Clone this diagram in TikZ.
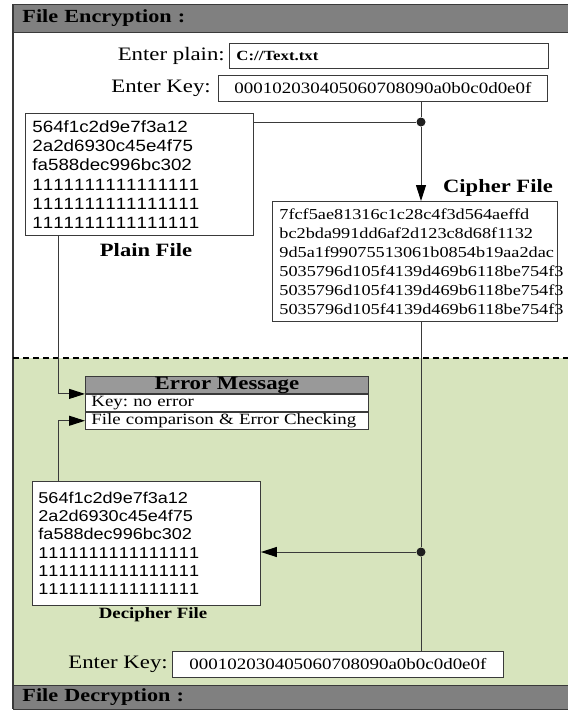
\documentclass[tikz,border=0pt]{standalone}
\usepackage{fontspec}
\setmainfont{Liberation Serif}[FakeStretch=1.2]
\newfontfamily\hexsans{Liberation Sans}[FakeStretch=1.15,Kerning=Off]
\usetikzlibrary{arrows.meta}
\definecolor{barGray}{HTML}{808080}
\definecolor{headGray}{HTML}{999999}
\definecolor{paneGreen}{HTML}{D7E4BD}
\definecolor{lineGray}{HTML}{3A3A3A}
\newcommand\fsz[2]{\fontsize{#1}{#2}\selectfont}
\frenchspacing
\tikzset{
  box/.style={draw=lineGray, line width=0.9pt, fill=white, inner sep=0pt},
  bar/.style={draw=lineGray, line width=1pt, fill=barGray, inner ysep=0pt, inner xsep=9pt,
    anchor=north west, align=left, font=\bfseries\fsz{18.5}{20}},
  conn/.style={draw=lineGray, line width=1pt},
  arr/.style={conn, -{Triangle[length=16pt,width=10pt,color=black]}},
  joint/.style={circle, fill=black!88, inner sep=0pt, minimum size=9pt},
  caption/.style={font=\bfseries\fsz{18.8}{20}, inner sep=0pt},
  hexserif/.style={font=\fsz{15.2}{19}, align=left, anchor=north west},
  hexsansfile/.style={font=\hexsans\fsz{16.3}{19.3}, align=left, anchor=north west},
  label/.style={font=\fsz{19}{20}, anchor=east, inner sep=0pt},
  row/.style={box, anchor=north west, minimum width=283pt, minimum height=17pt,
    text width=271pt, inner xsep=6pt, align=left, font=\fsz{15.7}{16}}
}
\begin{document}
\begin{tikzpicture}[x=1pt,y=-1pt]
\useasboundingbox (0,0) rectangle (568,713);
\fill[white] (0,0) rectangle (568,713);

% decryption pane
\fill[paneGreen] (13,358) rectangle (568,685);

% frame
\draw[lineGray, line width=1.6pt] (13,4) -- (13,709);

% title bars
\node[bar, minimum width=562pt, minimum height=28pt, text width=544pt] (topbar) at (13,4) {File Encryption :};
\node[bar, minimum width=562pt, minimum height=24pt, text width=544pt] (botbar) at (13,685) {File Decryption :};

% boundary between the two panes
\draw[black, line width=2pt, dash pattern=on 6pt off 4pt] (13,358) -- (568,358);

% inputs
\node[box, anchor=north west, minimum width=319pt, minimum height=25pt, text width=305pt,
  inner xsep=7pt, align=left, font=\bfseries\fsz{14}{15}] (plainin) at (229,43) {C://Text.txt};
\node[label] (plainlbl) at ([xshift=-4pt]plainin.west) {Enter plain:};

\node[box, anchor=north west, minimum width=329pt, minimum height=26pt,
  font=\fsz{15.8}{17}] (keyin) at (218,75) {000102030405060708090a0b0c0d0e0f};
\node[label] (keylbl) at ([xshift=-7pt]keyin.west) {Enter Key:};

\node[box, anchor=north west, minimum width=331pt, minimum height=26pt,
  font=\fsz{15.8}{17}] (keyin2) at (172,651) {000102030405060708090a0b0c0d0e0f};
\node[label] (keylbl2) at ([xshift=-4pt]keyin2.west) {Enter Key:};

% plain file
\node[box, hexsansfile, minimum width=228pt, minimum height=122pt, text width=214pt,
  inner xsep=7pt] (plain) at (25,113)
  {564f1c2d9e7f3a12\\2a2d6930c45e4f75\\fa588dec996bc302\\1111111111111111\\1111111111111111\\1111111111111111};
\node[caption] (plaincap) at (146,250) {Plain File};

% cipher file
\node[box, hexserif, minimum width=285pt, minimum height=120pt, text width=271pt,
  inner xsep=7pt] (cipher) at (272,201)
  {7fcf5ae81316c1c28c4f3d564aeffd\\bc2bda991dd6af2d123c8d68f1132\\9d5a1f99075513061b0854b19aa2dac\\5035796d105f4139d469b6118be754f3\\5035796d105f4139d469b6118be754f3\\5035796d105f4139d469b6118be754f3};
\node[caption] (ciphercap) at (498,188) {Cipher File};

% error message table
\node[box, fill=headGray, anchor=north west, minimum width=283pt, minimum height=17pt,
  font=\bfseries\fsz{19}{19}] (errhead) at (85,376) {Error Message};
\node[row] (errkey) at (errhead.south west) {Key: no error};
\node[row] (errfile) at (errkey.south west) {File comparison \& Error Checking};

% decipher file
\node[box, hexsansfile, minimum width=228pt, minimum height=124pt, text width=216pt,
  inner xsep=6pt, font=\hexsans\fsz{15.7}{18.3}] (decipher) at (32,481)
  {564f1c2d9e7f3a12\\2a2d6930c45e4f75\\fa588dec996bc302\\1111111111111111\\1111111111111111\\1111111111111111};
\node[caption, font=\bfseries\fsz{15.7}{17}] (deciphercap) at (153,615) {Decipher File};

% junctions
\node[joint] (j1) at (421,122) {};
\node[joint] (j2) at (421,552) {};

% connectors
\draw[conn] (j1 |- keyin.south) -- (j1);
\draw[conn] (plain.east |- j1) -- (j1);
\draw[arr] (j1) -- (j1 |- cipher.north);
\draw[conn] (j1 |- cipher.south) -- (j2);
\draw[conn] (j2) -- (j2 |- keyin2.north);
\draw[arr] (j2) -- (decipher.east |- j2);
\draw[arr] ([xshift=33pt]plain.south west) |- (errhead.south west);
\draw[arr] ([xshift=26pt]decipher.north west) |- (errfile.west);
\end{tikzpicture}
\end{document}
